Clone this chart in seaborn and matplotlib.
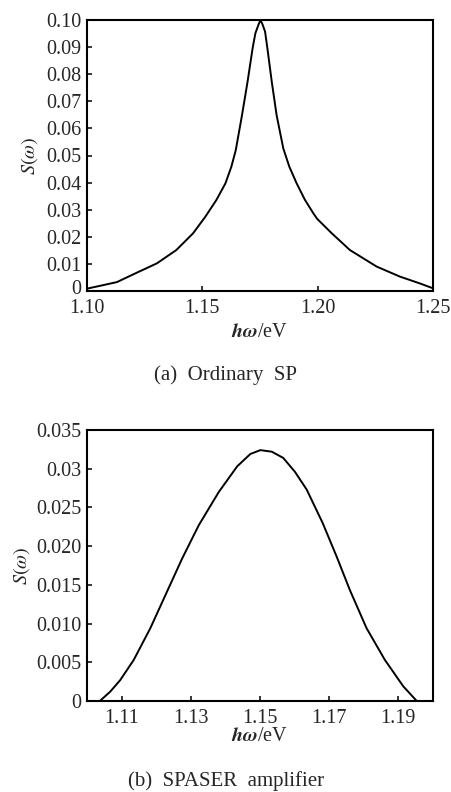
import numpy as np
import pandas as pd
import matplotlib
matplotlib.use("Agg")
import matplotlib.pyplot as plt
import matplotlib.transforms as mtransforms
import seaborn as sns

# ---- data ----
x_sp = [1.1000, 1.1007, 1.1072, 1.1130, 1.1217, 1.1303, 1.1387, 1.1460, 1.1513, 1.1561,
        1.1600, 1.1626, 1.1645, 1.1672, 1.1696, 1.1718, 1.1730, 1.1744, 1.1752, 1.1760,
        1.1772, 1.1782, 1.1801, 1.1822, 1.1851, 1.1877, 1.1909, 1.1945, 1.1981, 1.1998,
        1.2061, 1.2140, 1.2256, 1.2357, 1.2443, 1.2500]
y_sp = [0.0007, 0.0010, 0.0022, 0.0033, 0.0068, 0.0102, 0.0151, 0.0213, 0.0274, 0.0336,
        0.0397, 0.0459, 0.0520, 0.0649, 0.0772, 0.0896, 0.0951, 0.0984, 0.0999, 0.0986,
        0.0957, 0.0896, 0.0772, 0.0649, 0.0526, 0.0459, 0.0397, 0.0336, 0.0287, 0.0266,
        0.0213, 0.0151, 0.0090, 0.0053, 0.0028, 0.0010]

x_amp = [1.1037, 1.1067, 1.1096, 1.1135, 1.1183, 1.1231, 1.1275, 1.1323, 1.1381, 1.1434,
         1.1472, 1.1501, 1.1534, 1.1567, 1.1601, 1.1635, 1.1681, 1.1722, 1.1760, 1.1808,
         1.1861, 1.1914, 1.1953]
y_amp = [0.0000, 0.0012, 0.0027, 0.0053, 0.0094, 0.0141, 0.0184, 0.0227, 0.0270, 0.0303,
         0.0319, 0.0324, 0.0322, 0.0314, 0.0296, 0.0273, 0.0230, 0.0186, 0.0143, 0.0094,
         0.0053, 0.0019, 0.0000]

xt_sp = [1.10, 1.15, 1.20, 1.25]
xt_sp_lab = ["1.10", "1.15", "1.20", "1.25"]
yt_sp = [0, 0.01, 0.02, 0.03, 0.04, 0.05, 0.06, 0.07, 0.08, 0.09, 0.10]
yt_sp_lab = ["0", "0.01", "0.02", "0.03", "0.04", "0.05", "0.06", "0.07", "0.08", "0.09", "0.10"]
xt_amp = [1.11, 1.13, 1.15, 1.17, 1.19]
xt_amp_lab = ["1.11", "1.13", "1.15", "1.17", "1.19"]
yt_amp = [0, 0.005, 0.010, 0.015, 0.020, 0.025, 0.030, 0.035]
yt_amp_lab = ["0", "0.005", "0.010", "0.015", "0.020", "0.025", "0.03", "0.035"]

xlabel = r"$\mathbfit{h\omega}$/eV"
ylabel = r"$S(\omega)$"
cap_a = "(a)  Ordinary  SP"
cap_b = "(b)  SPASER  amplifier"

sns.set_theme(style="ticks")
plt.rcParams["font.family"] = ["Liberation Serif", "DejaVu Serif"]
plt.rcParams["mathtext.fontset"] = "stix"

fig = plt.figure(figsize=(4.52, 7.92), dpi=100)
ax1 = fig.add_axes([87/452, 1-291/792, 346/452, 271/792])
ax2 = fig.add_axes([87/452, 1-701/792, 346/452, 271/792])

df1 = pd.DataFrame({"x": x_sp, "y": y_sp})
df2 = pd.DataFrame({"x": x_amp, "y": y_amp})
sns.lineplot(data=df1, x="x", y="y", ax=ax1, color="black", lw=1.4, sort=False)
sns.lineplot(data=df2, x="x", y="y", ax=ax2, color="black", lw=1.4, sort=False)

fs = 14.5
for ax, xt, xtl, yt, ytl, xlim, ylim, ylx, xpad, lpad in [
    (ax1, xt_sp, xt_sp_lab, yt_sp, yt_sp_lab, (1.10, 1.25), (0, 0.10), -0.136, 5.5, 4),
    (ax2, xt_amp, xt_amp_lab, yt_amp, yt_amp_lab, (1.10, 1.20), (0, 0.035), -0.158, 6, -1),
]:
    ax.set_xlim(*xlim)
    ax.set_ylim(*ylim)
    ax.set_xticks(xt)
    ax.set_xticklabels(xtl, fontsize=fs)
    ax.set_yticks(yt)
    ax.set_yticklabels(ytl, fontsize=fs)
    ax.tick_params(direction="in", length=3.6, width=1.3, top=False, right=False)
    ax.tick_params(axis="x", pad=xpad)
    ax.tick_params(axis="y", pad=4)
    for s in ax.spines.values():
        s.set_linewidth(1.5)
        s.set_color("black")
    ax.set_xlabel(xlabel, fontsize=fs, labelpad=lpad)
    ax.set_ylabel(ylabel, fontsize=fs)
    ax.yaxis.set_label_coords(ylx, 0.5)

# nudge the top panel's "0" label up slightly, as in the reference
zero_lab = ax1.get_yticklabels()[0]
zero_lab.set_transform(zero_lab.get_transform() +
                       mtransforms.ScaledTranslation(0, 3/72, fig.dpi_scale_trans))

fig.text(0.5, 1-375/792, cap_a, ha="center", va="center", fontsize=15)
fig.text(0.5, 1-781/792, cap_b, ha="center", va="center", fontsize=15)

fig.savefig("out.png", dpi=100)
